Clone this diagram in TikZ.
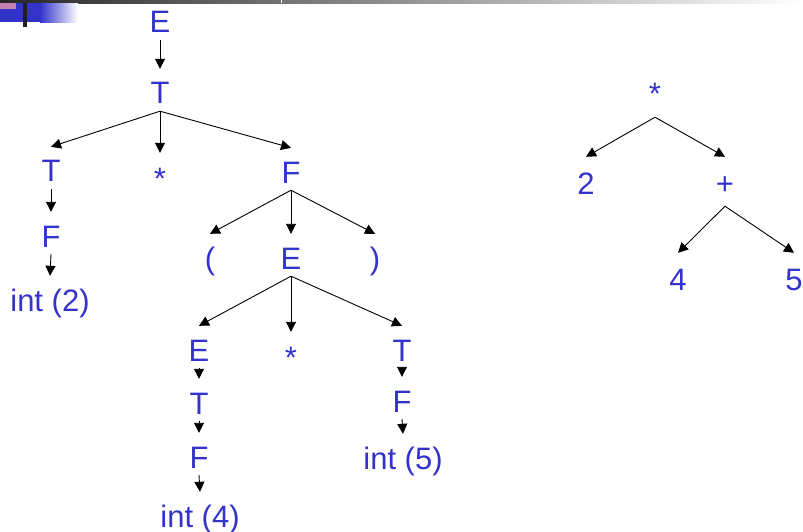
\documentclass[tikz,border=0pt]{standalone}
\usepackage{fontspec}
\setmainfont{Liberation Sans}
\usetikzlibrary{arrows.meta}
\definecolor{tblue}{RGB}{51,51,204}
\definecolor{pinkc}{RGB}{196,128,176}
\begin{document}
\begin{tikzpicture}[x=1pt,y=-1pt,
  sym/.style={font=\fontsize{31}{31}\selectfont, text=tblue, inner sep=0pt, text height=22pt, text depth=0pt},
  arr/.style={draw=black, line width=0.9pt, -{Triangle[length=10pt,width=10pt]}}]
\useasboundingbox (0,0) rectangle (803,532);
% slide decoration
\shade[left color=black!85, right color=white] (0,0) rectangle (803,3.3);
\fill[white] (280.5,0) rectangle (281.5,3.3);
\fill[tblue] (0,3.3) rectangle (40,22.5);
\shade[left color=tblue, right color=white] (40,3.3) rectangle (78,22.5);
\fill[pinkc] (0,3.3) rectangle (15.5,9);
\fill[black!88] (23,3.3) rectangle (26.7,27);
% parse tree
\node[sym] (E0) at (160,22) {E};
\node[sym] (T0) at (160,93) {T};
\node[sym] (T1) at (51,171) {T};
\node[sym] (S1) at (160,178) {*};
\node[sym] (F1) at (291,172) {F};
\node[sym] (F2) at (51,236) {F};
\node[sym] (I2) at (50,300) {int (2)};
\node[sym] (LP) at (210,258) {(};
\node[sym] (E1) at (291,258) {E};
\node[sym] (RP) at (375,258) {)};
\node[sym] (E2) at (199,350) {E};
\node[sym] (S2) at (291,357) {*};
\node[sym] (T2) at (402,350) {T};
\node[sym] (T3) at (199,403) {T};
\node[sym] (F3) at (199,457) {F};
\node[sym] (I4) at (200,516) {int (4)};
\node[sym] (F4) at (402,401) {F};
\node[sym] (I5) at (403,458) {int (5)};
% abstract syntax tree
\node[sym] (RS) at (655,94) {*};
\node[sym] (R2) at (586,183) {2};
\node[sym] (RP2) at (725,183) {+};
\node[sym] (R4) at (678,279) {4};
\node[sym] (R5) at (794,279) {5};
% parse tree arrows
\draw[arr] ([yshift=-7pt]E0.south) -- ([yshift=13pt]T0.north);
\draw[arr] ([yshift=-7pt]T0.south) -- ([yshift=13pt]T1.north);
\draw[arr] ([yshift=-7pt]T0.south) -- ([yshift=14pt]S1.north);
\draw[arr] ([yshift=-7pt]T0.south) -- ([yshift=13pt]F1.north);
\draw[arr] ([yshift=-7pt]T1.south) -- ([yshift=13pt]F2.north);
\draw[arr] ([yshift=-7pt]F2.south) -- ([yshift=13pt]I2.north);
\draw[arr] ([yshift=-7pt]F1.south) -- ([yshift=13pt]LP.north);
\draw[arr] ([yshift=-7pt]F1.south) -- ([yshift=13pt]E1.north);
\draw[arr] ([yshift=-7pt]F1.south) -- ([yshift=13pt]RP.north);
\draw[arr] ([yshift=-7pt]E1.south) -- ([yshift=13pt]E2.north);
\draw[arr] ([yshift=-7pt]E1.south) -- ([yshift=14pt]S2.north);
\draw[arr] ([yshift=-7pt]E1.south) -- ([yshift=13pt]T2.north);
\draw[arr] ([yshift=-7pt]E2.south) -- ([yshift=13pt]T3.north);
\draw[arr] ([yshift=-7pt]T3.south) -- ([yshift=13pt]F3.north);
\draw[arr] ([yshift=-7pt]F3.south) -- ([yshift=13pt]I4.north);
\draw[arr] ([yshift=-7pt]T2.south) -- ([yshift=13pt]F4.north);
\draw[arr] ([yshift=-7pt]F4.south) -- ([yshift=13pt]I5.north);
% AST arrows
\draw[arr] ([yshift=-12pt]RS.south) -- ([yshift=15pt]R2.north);
\draw[arr] ([yshift=-12pt]RS.south) -- ([yshift=15pt]RP2.north);
\draw[arr] ([yshift=-12pt]RP2.south) -- ([yshift=15pt]R4.north);
\draw[arr] ([yshift=-12pt]RP2.south) -- ([yshift=15pt]R5.north);
\end{tikzpicture}
\end{document}
